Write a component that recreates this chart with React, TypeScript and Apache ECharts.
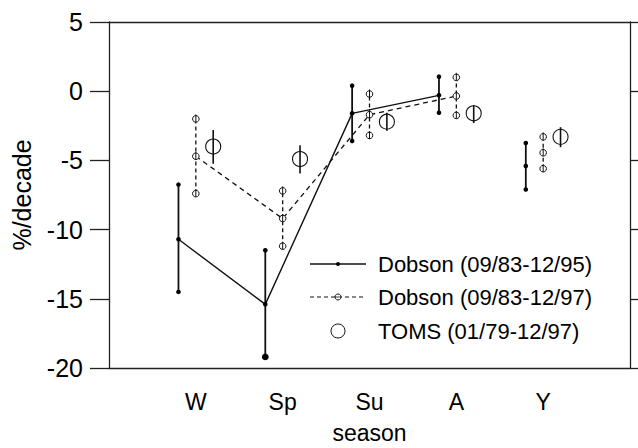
import React, { useEffect, useRef } from "react";
import * as echarts from "echarts";

// ---- data ----
const categories = ["W", "Sp", "Su", "A", "Y"];
const categoryPos = [1, 2, 3, 4, 5];

const dobson95Mid = [-10.7, -15.4, -1.6, -0.3, -5.4];
const dobson95High = [-6.75, -11.5, 0.4, 1.05, -3.75];
const dobson95Low = [-14.5, -19.2, -3.6, -1.55, -7.1];

const dobson97Mid = [-4.7, -9.2, -1.7, -0.35, -4.45];
const dobson97High = [-2.0, -7.2, -0.2, 1.0, -3.3];
const dobson97Low = [-7.4, -11.2, -3.2, -1.75, -5.6];

const tomsMid = [-4.0, -4.9, -2.2, -1.6, -3.3];
const tomsHigh = [-2.8, -3.9, -1.55, -1.0, -2.6];
const tomsLow = [-5.25, -5.95, -2.85, -2.3, -4.05];

const legendNames = ["Dobson (09/83-12/95)", "Dobson (09/83-12/97)", "TOMS (01/79-12/97)"];

const FONT = '"Liberation Sans", Arial, Helvetica, sans-serif';

function connected(offset: number, mid: number[]) {
  // seasons W..A are joined, annual (Y) stands alone
  return categoryPos.slice(0, 4).map((c, i) => [c + offset, mid[i]]);
}

function errorSeries(kind: string, offset: number, mid: number[], low: number[], high: number[]) {
  return {
    type: "custom",
    silent: true,
    clip: false,
    z: 5,
    data: categoryPos.map((c, i) => [c + offset, mid[i], low[i], high[i]]),
    encode: { x: 0, y: [1, 2, 3] },
    renderItem: (params: any, api: any) => {
      const x = api.value(0);
      const pm = api.coord([x, api.value(1)]);
      const pl = api.coord([x, api.value(2)]);
      const ph = api.coord([x, api.value(3)]);
      const children: any[] = [];
      if (kind === "d95") {
        children.push({
          type: "line",
          shape: { x1: pl[0], y1: pl[1], x2: ph[0], y2: ph[1] },
          style: { stroke: "#111", lineWidth: 1.8 },
        });
        [pm, pl, ph].forEach((p, k) => {
          const big = k === 1 && params.dataIndex === 1;
          children.push({
            type: "circle",
            shape: { cx: p[0], cy: p[1], r: big ? 3.4 : 2.3 },
            style: { fill: "#000", stroke: null },
          });
        });
      } else if (kind === "d97") {
        children.push({
          type: "line",
          shape: { x1: pl[0], y1: pl[1], x2: ph[0], y2: ph[1] },
          style: { stroke: "#111", lineWidth: 1.3, lineDash: [4, 3] },
        });
        [pm, pl, ph].forEach((p) => {
          children.push({
            type: "circle",
            shape: { cx: p[0], cy: p[1], r: 3.3 },
            style: { fill: "#fff", stroke: "#111", lineWidth: 1 },
          });
          children.push({
            type: "line",
            shape: { x1: p[0], y1: p[1] - 4.5, x2: p[0], y2: p[1] + 3.3 },
            style: { stroke: "#111", lineWidth: 1 },
          });
        });
      } else {
        children.push({
          type: "line",
          shape: { x1: pl[0], y1: pl[1], x2: ph[0], y2: ph[1] },
          style: { stroke: "#111", lineWidth: 1.6 },
        });
        children.push({
          type: "circle",
          shape: { cx: pm[0], cy: pm[1], r: 7.5 },
          style: { fill: "none", stroke: "#111", lineWidth: 1.1 },
        });
      }
      return { type: "group", children };
    },
  };
}

export default function App() {
  const ref = useRef<HTMLDivElement>(null);

  useEffect(() => {
    if (!ref.current) return;
    const chart = echarts.init(ref.current, null, { renderer: "svg" });

    const legendRowsY = [264, 297, 331];
    const legendGraphic: any[] = [
      { type: "line", shape: { x1: 310, y1: legendRowsY[0], x2: 366, y2: legendRowsY[0] }, style: { stroke: "#111", lineWidth: 1.3 } },
      { type: "circle", shape: { cx: 338, cy: legendRowsY[0], r: 2 }, style: { fill: "#000" } },
      { type: "line", shape: { x1: 310, y1: legendRowsY[1], x2: 366, y2: legendRowsY[1] }, style: { stroke: "#111", lineWidth: 1.2, lineDash: [4, 3] } },
      { type: "circle", shape: { cx: 338, cy: legendRowsY[1], r: 3 }, style: { fill: "#fff", stroke: "#111", lineWidth: 1 } },
      { type: "line", shape: { x1: 335, y1: legendRowsY[1], x2: 341, y2: legendRowsY[1] }, style: { stroke: "#111", lineWidth: 0.8 } },
      { type: "circle", shape: { cx: 338, cy: legendRowsY[2], r: 7 }, style: { fill: "none", stroke: "#111", lineWidth: 1 } },
    ];
    legendNames.forEach((name, i) => {
      legendGraphic.push({
        type: "text",
        x: 378,
        y: legendRowsY[i],
        style: { text: name, fontSize: 22, fontFamily: FONT, fill: "#000", verticalAlign: "middle", align: "left" },
      });
    });

    const axisLineStyle = { color: "#222", width: 1.3 };

    chart.setOption({
      animation: false,
      backgroundColor: "#fff",
      grid: { left: 109, right: 8, top: 22, bottom: 80, containLabel: false, outerBoundsMode: "none" },
      xAxis: [
        {
          type: "value",
          position: "bottom",
          min: 0,
          max: 6,
          interval: 1,
          splitLine: { show: false },
          axisTick: { show: false },
          axisLine: { show: true, onZero: false, lineStyle: axisLineStyle },
          axisLabel: {
            margin: 22,
            fontSize: 23,
            fontFamily: FONT,
            color: "#000",
            formatter: (v: number) => {
              const idx = categoryPos.indexOf(Math.round(v));
              return idx >= 0 && Math.abs(v - Math.round(v)) < 1e-6 ? categories[idx] : "";
            },
          },
          name: "season",
          nameLocation: "middle",
          nameGap: 53,
          nameTextStyle: { fontSize: 23, fontFamily: FONT, color: "#000" },
        },
        {
          type: "value",
          position: "top",
          min: 0,
          max: 6,
          splitLine: { show: false },
          axisTick: { show: false },
          axisLabel: { show: false },
          axisLine: { show: true, onZero: false, lineStyle: axisLineStyle },
        },
      ],
      yAxis: [
        {
          type: "value",
          position: "left",
          min: -20,
          max: 5,
          interval: 5,
          splitLine: { show: false },
          axisLine: { show: true, onZero: false, lineStyle: axisLineStyle },
          axisTick: { show: true, length: 19, lineStyle: axisLineStyle },
          axisLabel: { margin: 26, fontSize: 25, fontFamily: FONT, color: "#000" },
          name: "%/decade",
          nameLocation: "middle",
          nameGap: 75,
          nameTextStyle: { fontSize: 25, fontFamily: FONT, color: "#000" },
        },
        {
          type: "value",
          position: "right",
          min: -20,
          max: 5,
          interval: 5,
          splitLine: { show: false },
          axisLine: { show: true, onZero: false, lineStyle: axisLineStyle },
          axisTick: { show: true, length: 19, lineStyle: axisLineStyle },
          axisLabel: { show: false },
        },
      ],
      series: [
        {
          type: "line",
          name: legendNames[0],
          data: connected(-0.2, dobson95Mid),
          symbol: "none",
          lineStyle: { color: "#111", width: 1.4 },
          z: 3,
        },
        {
          type: "line",
          name: legendNames[1],
          data: connected(0, dobson97Mid),
          symbol: "none",
          lineStyle: { color: "#111", width: 1.3, type: [5, 4] },
          z: 3,
        },
        errorSeries("d95", -0.2, dobson95Mid, dobson95Low, dobson95High),
        errorSeries("d97", 0, dobson97Mid, dobson97Low, dobson97High),
        errorSeries("toms", 0.2, tomsMid, tomsLow, tomsHigh),
      ],
      graphic: legendGraphic,
    });

    return () => chart.dispose();
  }, []);

  return <div ref={ref} style={{ position: "fixed", left: 0, top: 0, width: 638, height: 448 }} />;
}
